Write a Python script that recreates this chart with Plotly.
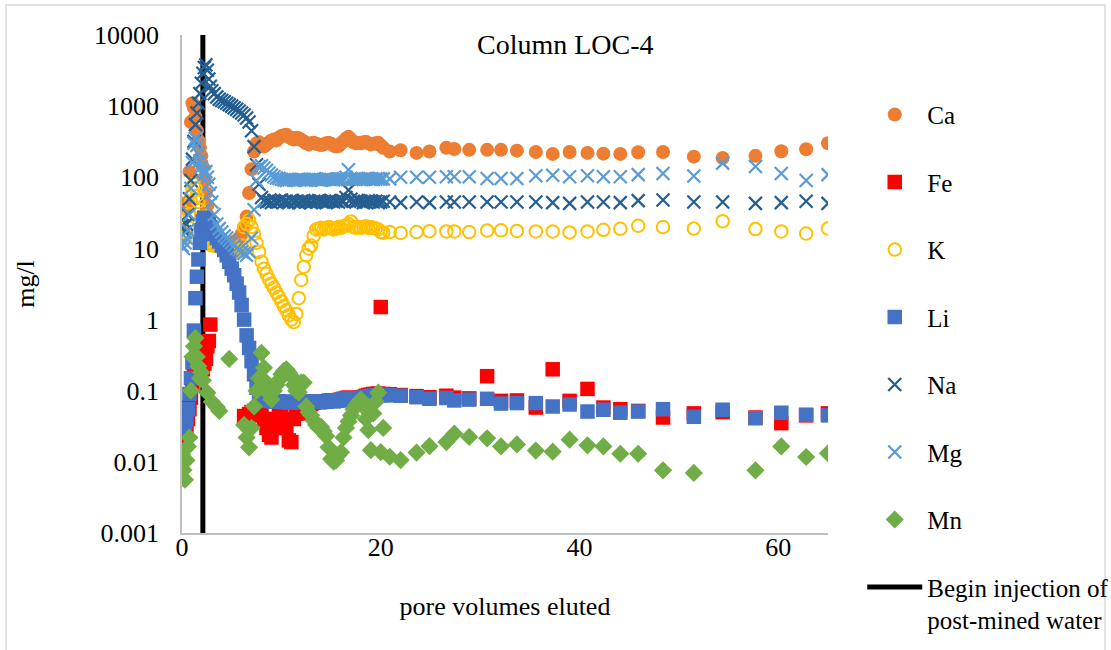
import plotly.graph_objects as go

# Pore volumes eluted (dense sampling to ~20 PV, sparse afterwards)
pore_volumes = [
    0.00, 0.15, 0.30, 0.45, 0.60, 0.75, 0.90, 1.05, 1.20, 1.35,
    1.50, 1.65, 1.80, 1.95, 2.10, 2.25, 2.40, 2.55, 2.70, 2.85,
    3.00, 3.25, 3.50, 3.75, 4.00, 4.25, 4.50, 4.75, 5.00, 5.25,
    5.50, 5.75, 6.00, 6.25, 6.50, 6.75, 7.00, 7.25, 7.50, 7.75,
    8.00, 8.25, 8.50, 8.75, 9.00, 9.25, 9.50, 9.75, 10.00, 10.25,
    10.50, 10.75, 11.00, 11.25, 11.50, 11.75, 12.00, 12.25, 12.50, 12.75,
    13.00, 13.25, 13.50, 13.75, 14.00, 14.25, 14.50, 14.75, 15.00, 15.25,
    15.50, 15.75, 16.00, 16.25, 16.50, 16.75, 17.00, 17.25, 17.50, 17.75,
    18.00, 18.25, 18.50, 18.75, 19.00, 19.25, 19.50, 19.75, 20.00, 20.25,
    20.9, 22.0, 23.6, 24.9, 26.6, 27.4, 28.9, 30.7, 32.1, 33.7,
    35.6, 37.3, 39.0, 40.8, 42.4, 44.1, 45.9, 48.4, 51.5, 54.4,
    57.7, 60.3, 62.8, 65.0,
]

# Concentrations in mg/l (None = not reported)
ca = [
    40, 38, 42, 36, 45, 120, 600, 1100, 950, 700,
    450, 330, 260, 200, 140, 90, 60, 40, 28, 20,
    16, 15, 14, 13, 13, 12, 12, 12, 12, 12,
    13, 14, 16, 20, 28, 60, 130, 230, 300, 310,
    280, 270, 290, 310, 330, 340, 330, 360, 380, 390,
    395, 370, 350, 340, 360, 355, 335, 320, 300, 290,
    300, 305, 295, 290, 285, 290, 300, 305, 295, 280,
    270, 275, 300, 320, 350, 370, 340, 310, 300, 305,
    300, 310, 315, 300, 290, 295, 300, 305, 280, 260,
    230, 240, 220, 230, 260, 250, 243, 243, 243, 237,
    227, 213, 227, 220, 215, 213, 225, 227, 195, 187,
    200, 232, 248, 301,
]
fe = [
    0.058, 0.025, 0.021, 0.028, 0.04, 0.055, 0.08, 0.12, 0.18, 0.26,
    0.33, 0.38, 0.3, 0.25, 0.2, 0.24, 0.28, 0.42, 0.5, 0.85,
    None, None, None, None, None, None, None, None, None, None,
    None, None, None, 0.044, 0.042, 0.047, 0.05, 0.052, 0.055, 0.05,
    0.045, 0.04, 0.03, 0.024, 0.022, 0.03, 0.04, 0.045, 0.05, 0.038,
    0.03, 0.02, 0.019, 0.04, 0.048, 0.05, 0.048, 0.05, 0.055, 0.06,
    0.065, 0.068, 0.07, 0.069, 0.07, 0.07, 0.071, 0.072, 0.073, 0.072,
    0.073, 0.074, 0.075, 0.077, 0.079, 0.08, 0.078, 0.077, 0.077, 0.078,
    0.08, 0.082, 0.085, 0.087, 0.088, 0.09, 0.09, 0.091, 1.5, 0.09,
    0.089, 0.087, 0.084, 0.081, 0.085, 0.08, 0.078, 0.16, 0.072, 0.073,
    0.058, 0.20, 0.072, 0.106, 0.058, 0.055, 0.052, 0.042, 0.048, 0.05,
    0.042, 0.035, 0.045, 0.048,
]
k = [
    15, 17, 14, 16, 20, 30, 45, 65, 80, 70,
    55, 45, 35, 28, 22, 18, 15, 13, 12, 12,
    11, 11, 11, 10.5, 10, 10, 9.5, 9.5, 9, 9,
    9, 9.5, 11, 20, 22, 25, 20, 16, 12, 9,
    6.5, 5.2, 4.4, 3.7, 3.2, 2.8, 2.4, 2.1, 1.8, 1.55,
    1.35, 1.15, 1.0, 0.92, 1.2, 2.0, 3.6, 5.5, 8, 10,
    11, 15, 18.5, 19, 19.5, 18.5, 19, 20, 19.5, 18.5,
    19, 20, 19.5, 20.5, 21, 22, 24, 20, 19.5, 20,
    19.5, 20, 20.5, 19.5, 20, 19.5, 19, 18.5, 17, 16.6,
    17, 16.5, 17, 17.5, 17.3, 17.3, 17, 17.8, 18, 17.6,
    17.3, 17.3, 16.8, 17.3, 18.3, 18.9, 20.8, 20, 19, 24.1,
    18.7, 17.3, 16.2, 19,
]
li = [
    0.030, 0.032, 0.035, 0.040, 0.055, 0.09, 0.15, 0.25, 0.7, 2.0,
    4.0, 7.0, 12, 18, 24, 27, 26, 24, 22, 20,
    18, 16, 14, 12.5, 11, 9.5, 8, 6.5, 5.2, 4.2,
    3.2, 2.4, 1.6, 1.0, 0.6, 0.4, 0.26, 0.17, 0.11, 0.085,
    0.08, 0.076, 0.074, 0.072, 0.072, 0.07, 0.07, 0.071, 0.07, 0.069,
    0.07, 0.068, 0.068, 0.069, 0.07, 0.07, 0.07, 0.069, 0.07, 0.07,
    0.07, 0.071, 0.07, 0.07, 0.069, 0.07, 0.07, 0.072, 0.072, 0.071,
    0.072, 0.073, 0.074, 0.076, 0.078, 0.078, 0.077, 0.076, 0.075, 0.076,
    0.078, 0.08, 0.082, 0.083, 0.084, 0.085, 0.086, 0.086, 0.087, 0.087,
    0.086, 0.085, 0.081, 0.077, 0.079, 0.073, 0.075, 0.077, 0.066, 0.067,
    0.067, 0.060, 0.064, 0.051, 0.054, 0.049, 0.051, 0.055, 0.043, 0.054,
    0.041, 0.049, 0.046, 0.045,
]
na = [
    21, 20, 17, 22, 30, 50, 90, 180, 320, 550,
    800, 1100, 1500, 2100, 2900, 3500, 3800, 3200, 2400, 1900,
    1650, 1500, 1350, 1250, 1200, 1150, 1100, 1050, 1000, 950,
    900, 850, 800, 750, 680, 600, 450, 270, 150, 80,
    52, 47, 45, 46, 44, 47, 45, 46, 48, 45,
    46, 44, 47, 45, 46, 44, 46, 47, 45, 46,
    44, 46, 45, 47, 46, 45, 44, 46, 47, 45,
    46, 45, 47, 46, 52, 66, 49, 46, 45, 47,
    46, 44, 45, 47, 46, 45, 46, 44, 45, 46,
    45, 44, 45, 44, 45, 45, 45, 45, 45, 45,
    45, 44, 43, 45, 45, 44, 47, 48, 45, 45,
    43, 44, 46, 43,
]
mg = [
    11, 10, 12, 14, 18, 30, 70, 160, 300, 350,
    280, 220, 170, 140, 120, 110, 120, 100, 80, 60,
    45, 30, 22, 19, 17, 15, 14, 13, 12, 11,
    10, 9.5, 9, 8.5, 8, 9, 14, 35, 90, 140,
    145, 135, 125, 115, 108, 102, 98, 96, 94, 92,
    90, 92, 93, 91, 92, 94, 93, 92, 91, 93,
    92, 94, 93, 92, 91, 93, 95, 94, 93, 92,
    93, 95, 94, 96, 100, 128, 96, 94, 93, 95,
    94, 93, 95, 96, 94, 93, 95, 96, 94, 95,
    95, 100, 100, 100, 102, 102, 102, 96, 96, 96,
    105, 107, 102, 105, 102, 102, 109, 113, 104, 158,
    142, 113, 90, 109,
]
mn = [
    0.0128, 0.0077, 0.0056, 0.0105, 0.0165, 0.022, 0.1, 0.3, 0.42, 0.55,
    0.3, 0.22, 0.15, 0.18, 0.14, None, None, 0.094, None, None,
    0.07, None, 0.059, 0.052, None, None, None, 0.28, None, None,
    None, None, None, 0.033, 0.022, 0.016, 0.03, 0.06, 0.1, 0.15,
    0.34, 0.21, 0.13, 0.09, 0.075, 0.1, 0.12, 0.14, 0.17, 0.19,
    0.2, 0.18, 0.16, 0.12, 0.1, 0.095, 0.13, 0.13, 0.06, 0.05,
    0.045, 0.038, 0.033, 0.03, 0.031, 0.027, 0.023, 0.016, 0.011, 0.0101,
    0.0105, 0.0125, 0.0137, 0.022, 0.03, 0.037, 0.045, 0.055, 0.062, 0.069,
    0.075, 0.06, 0.04, 0.028, 0.0146, 0.048, 0.07, 0.094, 0.0137, 0.03,
    0.0118, 0.0106, 0.0135, 0.0166, 0.019, 0.0249, 0.0224, 0.0214, 0.0165, 0.0176,
    0.0144, 0.0139, 0.0205, 0.0171, 0.0165, 0.013, 0.013, 0.0076, 0.007, None,
    0.0076, 0.0165, 0.0117, 0.0132,
]

# Start of post-mined water injection (pore volumes)
injection_pv = 2.1

x_ticks = [0, 20, 40, 60]
y_ticks = [0.001, 0.01, 0.1, 1, 10, 100, 1000, 10000]
y_tick_text = ["0.001", "0.01", "0.1", "1", "10", "100", "1000", "10000"]

FONT = "Liberation Serif, Times New Roman, serif"

series = [
    ("Ca", ca, dict(symbol="circle", size=14, color="#ED7D31")),
    ("Fe", fe, dict(symbol="square", size=14.5, color="#FF0000")),
    ("K", k, dict(symbol="circle-open", size=12.5, color="#FFC000",
                  line=dict(color="#FFC000", width=2))),
    ("Li", li, dict(symbol="square", size=14.5, color="#4472C4")),
    ("Na", na, dict(symbol="x-thin", size=13, color="#255E91",
                    line=dict(color="#255E91", width=2.2))),
    ("Mg", mg, dict(symbol="x-thin", size=13, color="#5B9BD5",
                    line=dict(color="#5B9BD5", width=2.2))),
    ("Mn", mn, dict(symbol="diamond", size=14, color="#70AD47")),
]

fig = go.Figure()

fig.add_trace(go.Scatter(
    x=[injection_pv, injection_pv], y=[y_ticks[0], y_ticks[-1]],
    mode="lines", line=dict(color="black", width=5),
    name="Begin injection of<br>post-mined water",
    legendgroup="inj", legendrank=8,
))

for rank, (name, values, marker) in enumerate(series, start=1):
    fig.add_trace(go.Scatter(
        x=pore_volumes, y=values, mode="markers", name=name,
        marker=marker, legendgroup=name, legendrank=rank,
    ))

fig.add_annotation(
    text="Column LOC-4", xref="paper", yref="paper", x=0.593, y=0.98,
    xanchor="center", yanchor="middle", showarrow=False,
    font=dict(family=FONT, size=28, color="black"),
)

# light frame around the whole chart
fig.add_shape(
    type="rect", xref="paper", yref="paper",
    x0=-0.2724, x1=1.4288, y0=-0.26, y1=1.0602,
    line=dict(color="#D9D9D9", width=1.5), layer="below",
)

fig.update_layout(
    width=1111, height=650,
    margin=dict(l=182, r=283, t=35, b=117, autoexpand=False),
    paper_bgcolor="white", plot_bgcolor="white",
    font=dict(family=FONT, size=26, color="black"),
    showlegend=True,
    legend=dict(
        x=1.053, y=0.886, xanchor="left", yanchor="top",
        font=dict(family=FONT, size=25, color="black"),
        tracegroupgap=32, itemwidth=55, valign="top",
        bgcolor="rgba(0,0,0,0)", maxheight=620,
    ),
    xaxis=dict(
        range=[0, 65], tickvals=x_ticks, showgrid=False, zeroline=False,
        showline=True, linecolor="#BFBFBF", linewidth=1.5, ticks="",
        ticklabelstandoff=-10, tickfont=dict(family=FONT, size=26),
        title=dict(text="pore volumes eluted", standoff=36,
                   font=dict(family=FONT, size=26)),
    ),
    yaxis=dict(
        type="log", range=[-3, 4], tickvals=y_ticks, ticktext=y_tick_text,
        showgrid=False, zeroline=False, showline=True, linecolor="#BFBFBF",
        linewidth=1.5, ticks="", ticklabelstandoff=16,
        tickfont=dict(family=FONT, size=26),
        title=dict(text="mg/l", standoff=52,
                   font=dict(family=FONT, size=26)),
    ),
)

fig.write_html("out.html")
